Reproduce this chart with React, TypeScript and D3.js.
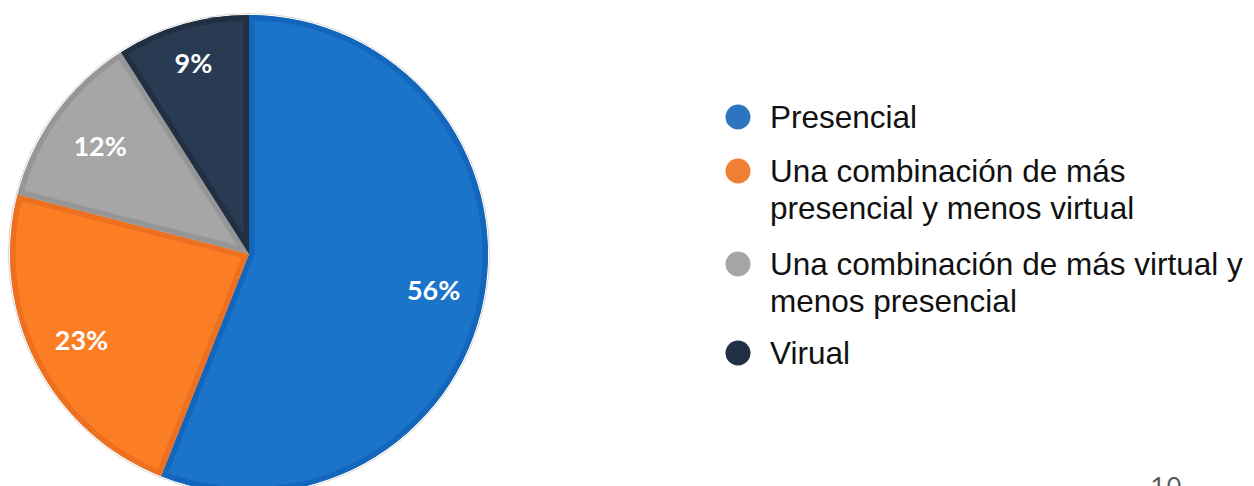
import React from "react";
import * as d3 from "d3";

const categories = [
  "Presencial",
  "Una combinación de más presencial y menos virtual",
  "Una combinación de más virtual y menos presencial",
  "Virual",
];
const values = [56, 23, 12, 9];
const percentLabels = ["56%", "23%", "12%", "9%"];
const legendLines = [
  ["Presencial"],
  ["Una combinación de más", "presencial y menos virtual"],
  ["Una combinación de más virtual y", "menos presencial"],
  ["Virual"],
];
const fillColors = ["#1a74c9", "#fb7d24", "#a6a6a6", "#283b52"];
const edgeColors = ["#1466ba", "#ec7020", "#969696", "#212f43"];
const legendColors = ["#2e75c0", "#f07f36", "#a5a5a5", "#223045"];
const labelRadii = [188, 188, 184, 199];
const pageNumber = "10";

const W = 1254;
const H = 486;
const cx = 249;
const cy = 254;
const R = 239;

export default function App() {
  const pie = d3.pie<number>().sort(null).value((d) => d);
  const arcs = pie(values);
  const arcGen = d3.arc<d3.PieArcDatum<number>>().innerRadius(0).outerRadius(R);

  const legendY = d3.scaleOrdinal<number, number>().domain([0, 1, 2, 3]).range([117, 171, 264, 353]);
  const lineH = 37;

  return (
    <svg
      width={W}
      height={H}
      style={{ position: "absolute", left: 0, top: 0, background: "#fff" }}
    >
      <defs>
        {arcs.map((a, i) => (
          <clipPath id={`clip${i}`} key={i}>
            <path d={arcGen(a) || ""} />
          </clipPath>
        ))}
      </defs>
      <g transform={`translate(${cx},${cy})`}>
        <circle r={R + 1.5} fill="none" stroke="#d9d9d9" strokeWidth={1} />
        {arcs.map((a, i) => (
          <path
            key={i}
            d={arcGen(a) || ""}
            fill={fillColors[i]}
            stroke={edgeColors[i]}
            strokeWidth={11}
            clipPath={`url(#clip${i})`}
          />
        ))}
        {arcs.map((a, i) => {
          const la = d3.arc<d3.PieArcDatum<number>>().innerRadius(labelRadii[i]).outerRadius(labelRadii[i]);
          const [x, y] = la.centroid(a);
          return (
            <text
              key={i}
              x={x}
              y={y}
              textAnchor="middle"
              dominantBaseline="central"
              fill="#ffffff"
              fontFamily="Lato, 'Open Sans', sans-serif"
              fontWeight="bold"
              fontSize={27}
            >
              {percentLabels[i]}
            </text>
          );
        })}
      </g>
      <g>
        {categories.map((c, i) => (
          <g key={c}>
            <circle cx={738} cy={legendY(i)} r={12.5} fill={legendColors[i]} />
            <text
              x={770}
              y={legendY(i) + 11}
              fontFamily="'Liberation Sans', Arial, sans-serif"
              fontSize={31.5}
              fill="#111111"
            >
              {legendLines[i].map((ln, j) => (
                <tspan key={j} x={770} dy={j === 0 ? 0 : lineH}>
                  {ln}
                </tspan>
              ))}
            </text>
          </g>
        ))}
      </g>
      <text
        x={1150}
        y={497}
        fontFamily="'Open Sans', sans-serif"
        fontSize={28}
        fill="#595959"
      >
        {pageNumber}
      </text>
    </svg>
  );
}
